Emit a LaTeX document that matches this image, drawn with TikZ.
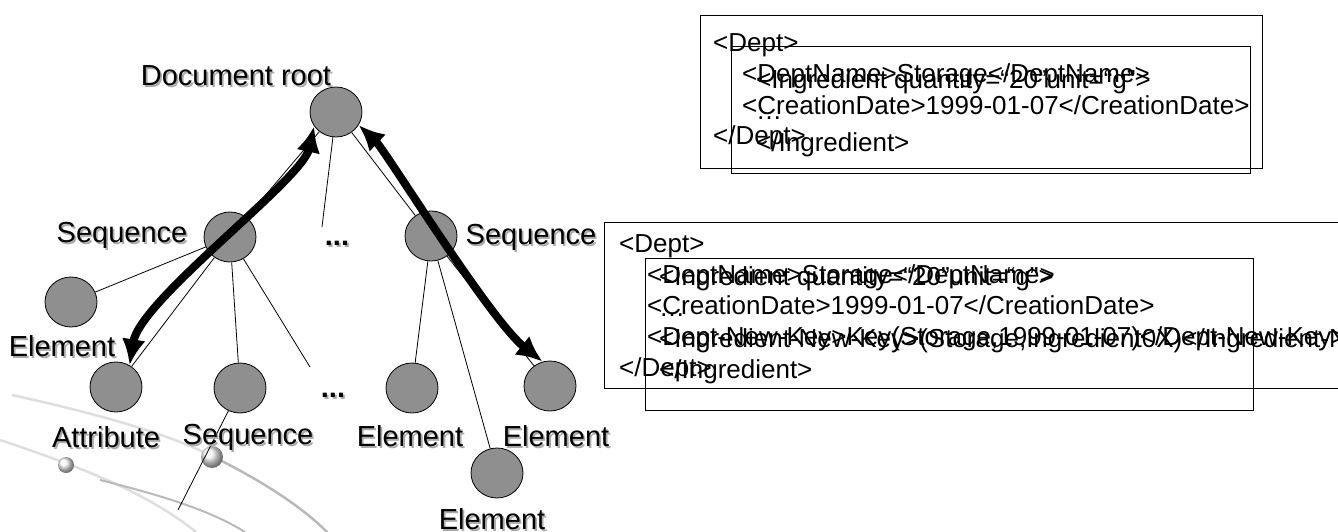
\documentclass[tikz,border=0pt]{standalone}
\usepackage{fontspec}
\setmainfont{Liberation Sans}
\usetikzlibrary{shapes.geometric,arrows.meta}
\definecolor{nodegray}{RGB}{143,143,143}
\definecolor{shadowgray}{RGB}{170,170,170}
\definecolor{swoosh}{RGB}{222,222,222}
\definecolor{swooshdark}{RGB}{185,185,185}
\newcommand\dropshadowed[1]{\makebox[0pt][l]{\hspace{1.8pt}\raisebox{-1.8pt}{\color{shadowgray}#1}}#1}
\begin{document}
\begin{tikzpicture}[x=1pt,y=-1pt,
  treenode/.style={ellipse, draw=black, line width=0.8pt, fill=nodegray,
    minimum width=52pt, minimum height=50pt, inner sep=0pt},
  edge/.style={line width=0.8pt},
  trail/.style={line width=8pt,
    {Latex[length=26pt,width=24pt]}-{Latex[length=26pt,width=24pt]}},
  lbl/.style={font=\fontsize{29}{34}\selectfont, inner sep=0pt},
  xml/.style={font=\fontsize{26}{31}\selectfont, inner sep=0pt, anchor=base west},
  frame/.style={draw=black, line width=0.8pt},
  ball/.style={ball color=white!96!black, draw=none}
]
\useasboundingbox (0,0) rectangle (1338,532);

% slide background swooshes
\draw[swoosh, line width=2.5pt] (12,395) .. controls (80,410) and (160,430) .. (212,456);
\draw[swooshdark, line width=2.5pt] (212,456) .. controls (260,480) and (300,505) .. (327,532);
\draw[swoosh, line width=2.5pt] (0,440) .. controls (90,470) and (150,495) .. (196,532);
\draw[swooshdark, line width=2pt] (100,480) .. controls (160,495) and (210,510) .. (245,532);
\shade[ball] (66,465) circle (8);
\shade[ball] (212,457) circle (11);

% tree nodes
\node[treenode] (root) at (336,112) {};
\node[treenode] (seqL) at (230,237) {};
\node[treenode] (seqR) at (431,236) {};
\node[treenode] (elA) at (71,302) {};
\node[treenode] (attr) at (116,387) {};
\node[treenode] (seqB) at (240,388) {};
\node[treenode] (elB) at (412,388) {};
\node[treenode] (elC) at (550,386) {};
\node[treenode] (elD) at (497,473) {};

\node[lbl] (dotsA) at (337,244) {\dropshadowed{\textbf{...}}};
\node[lbl] (dotsB) at (333,396) {\dropshadowed{\textbf{...}}};

\coordinate (rootEnd) at (322,227);
\coordinate (seqLEnd) at (310,367);
\coordinate (seqBEnd) at (178,510);

% tree edges
\draw[edge] (root) -- (seqL);
\draw[edge] (root) -- (seqR);
\draw[edge] (root) -- (rootEnd);
\draw[edge] (seqL) -- (elA);
\draw[edge] (seqL) -- (attr);
\draw[edge] (seqL) -- (seqB);
\draw[edge] (seqL) -- (seqLEnd);
\draw[edge] (seqR) -- (elB);
\draw[edge] (seqR) -- (elD);
\draw[edge] (seqR) -- (elC);
\draw[edge] (seqB) -- (seqBEnd);

% traversal paths
\draw[trail] (root.213) .. controls (302,180) and (140,300) .. (attr.58);
\draw[trail] (root.330) .. controls (385,150) and (490,320) .. (elC.107);

% labels
\node[lbl] (lRoot) at (236,77) {\dropshadowed{Document root}};
\node[lbl] (lSeqL) at (122,236) {\dropshadowed{Sequence}};
\node[lbl] (lSeqR) at (531,238) {\dropshadowed{Sequence}};
\node[lbl] (lElA) at (62,347) {\dropshadowed{Element}};
\node[lbl] (lAttr) at (106,438) {\dropshadowed{Attribute}};
\node[lbl] (lSeqB) at (248,438) {\dropshadowed{Sequence}};
\node[lbl] (lElB) at (410,437) {\dropshadowed{Element}};
\node[lbl] (lElC) at (556,437) {\dropshadowed{Element}};
\node[lbl] (lElD) at (492,520) {\dropshadowed{Element}};

% upper XML boxes
\draw[frame] (700,15) rectangle (1262,168);
\draw[frame] (731,46) rectangle (1250,173);
\node[xml] (t1) at (713,52) {<Dept>};
\node[xml] (t2) at (742,83) {<DeptName>Storage</DeptName>};
\node[xml] (t3) at (742,114) {<CreationDate>1999-01-07</CreationDate>};
\node[xml] (t4) at (713,145) {</Dept>};
\node[xml] (u1) at (756,89) {<Ingredient quantity=“20”unit=“g”>};
\node[xml] (u2) at (756,120) {…};
\node[xml] (u3) at (756,151) {</Ingredient>};

% lower XML boxes
\draw[frame] (604,222) -- (1345,222) (604,222) -- (604,388) -- (1345,388);
\draw[frame] (645,258) rectangle (1253,410);
\node[xml] (v1) at (619,252) {<Dept>};
\node[xml] (v2) at (647,283) {<DeptName>Storage</DeptName>};
\node[xml] (v3) at (647,314) {<CreationDate>1999-01-07</CreationDate>};
\node[xml] (v4) at (647,345) {<Dept-New-Key>Key(Storage,1999-01-07)</Dept-New-Key>};
\node[xml] (v5) at (619,376) {</Dept>};
\node[xml] (w1) at (659,285) {<Ingredient quantity=“20”unit=“g”>};
\node[xml] (w2) at (659,316) {…};
\node[xml] (w3) at (659,347) {<Ingredient-New-Key>(Storage,Ingredient0X)</Ingredient-New-Key>};
\node[xml] (w4) at (659,378) {</Ingredient>};
\end{tikzpicture}
\end{document}
